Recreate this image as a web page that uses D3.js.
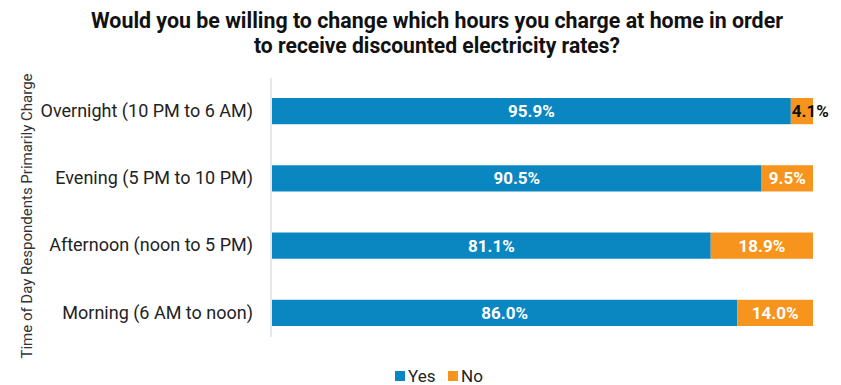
<!DOCTYPE html>
<html>
<head>
<meta charset="utf-8">
<script src="https://cdn.jsdelivr.net/npm/d3@7"></script>
<style>
  html, body { margin: 0; padding: 0; background: #fff; }
  svg { display: block; }
  text { font-family: Roboto, "Noto Sans", sans-serif; }
</style>
</head>
<body>
<svg id="chart" width="841" height="385"></svg>
<script>
// Survey results: willingness to shift home charging hours for discounted rates
const categories = [
  "Overnight (10 PM to 6 AM)",
  "Evening (5 PM to 10 PM)",
  "Afternoon (noon to 5 PM)",
  "Morning (6 AM to noon)"
];
const yesValues = [95.9, 90.5, 81.1, 86.0];
const noValues  = [4.1, 9.5, 18.9, 14.0];
const seriesNames = ["Yes", "No"];
const seriesColors = ["#0a86c1", "#f7941d"];
const titleLines = [
  "Would you be willing to change which hours you charge at home in order",
  "to receive discounted electricity rates?"
];
const yAxisTitle = "Time of Day Respondents Primarily Charge";

const svg = d3.select("#chart");

const rows = categories.map((c, i) => ({ cat: c, Yes: yesValues[i], No: noValues[i] }));
const stacked = d3.stack().keys(seriesNames)(rows);

const x = d3.scaleLinear().domain([0, 100]).range([272, 813]);
const y = d3.scaleBand().domain(categories).range([77.5, 346.5]).paddingInner(0.61).paddingOuter(0.305);
const color = d3.scaleOrdinal().domain(seriesNames).range(seriesColors);

// Title (condensed bold look)
svg.append("g").selectAll("text").data(titleLines).join("text")
  .attr("x", 437).attr("y", (d, i) => 28 + i * 25)
  .attr("text-anchor", "middle")
  .attr("font-size", 22).attr("font-weight", 700).attr("fill", "#111")
  .attr("textLength", (d, i) => i === 0 ? 692 : 366)
  .attr("lengthAdjust", "spacingAndGlyphs")
  .text(d => d);

// Y axis title
svg.append("text")
  .attr("transform", "translate(27,216) rotate(-90)")
  .attr("text-anchor", "middle")
  .attr("dy", "0.36em")
  .attr("font-size", 15).attr("fill", "#333")
  .text(yAxisTitle);

// Bars
const layers = svg.append("g").selectAll("g").data(stacked).join("g")
  .attr("fill", d => color(d.key));
layers.selectAll("rect").data(d => d).join("rect")
  .attr("x", d => x(d[0]))
  .attr("y", d => y(d.data.cat))
  .attr("width", d => x(d[1]) - x(d[0]))
  .attr("height", y.bandwidth());

// Category axis
const yAxis = d3.axisLeft(y).tickSize(0).tickPadding(18);
const gy = svg.append("g").attr("transform", "translate(271,0)").call(yAxis);
gy.select(".domain").attr("stroke", "#d9d9d9").attr("stroke-width", 1.2)
  .attr("d", "M0,78V337");
gy.selectAll(".tick text")
  .attr("font-size", 18).attr("fill", "#222")
  .attr("font-family", "Roboto, 'Noto Sans', sans-serif");

// Data labels
const narrow = d => (x(d.v[1]) - x(d.v[0])) < 40;
layers.selectAll("text.lbl").data(d => d.map(v => ({ v, key: d.key }))).join("text")
  .attr("class", "lbl")
  .attr("x", d => narrow(d) ? x(d.v[0]) + 1 : (x(d.v[0]) + x(d.v[1])) / 2)
  .attr("y", d => y(d.v.data.cat) + y.bandwidth() / 2)
  .attr("dy", "0.36em")
  .attr("text-anchor", d => narrow(d) ? "start" : "middle")
  .attr("font-size", 17).attr("font-weight", 700)
  .attr("fill", d => narrow(d) ? "#111" : "#fff")
  .text(d => (d.v[1] - d.v[0]).toFixed(1) + "%");

// Legend
const legend = svg.append("g");
const legendX = [395, 448];
seriesNames.forEach((name, i) => {
  legend.append("rect")
    .attr("x", legendX[i]).attr("y", 371).attr("width", 10).attr("height", 10)
    .attr("fill", color(name));
  legend.append("text")
    .attr("x", legendX[i] + 13).attr("y", 381.5)
    .attr("font-size", 17).attr("fill", "#222")
    .text(name);
});
</script>
</body>
</html>
